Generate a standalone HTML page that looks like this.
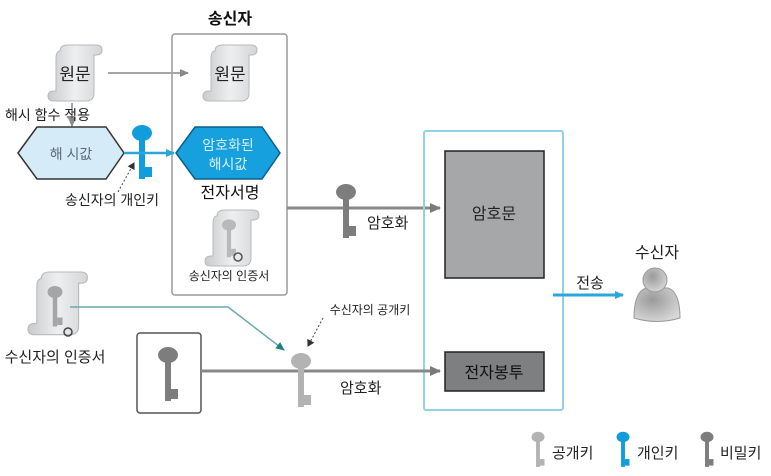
<!DOCTYPE html>
<html><head><meta charset="utf-8"><style>
html,body{margin:0;padding:0;background:#fff;}
svg{display:block;font-family:"Liberation Sans","Noto Sans CJK KR",sans-serif;}
</style></head><body>
<svg width="771" height="476" viewBox="0 0 771 476" xmlns="http://www.w3.org/2000/svg">
<defs>
<linearGradient id="sg" x1="0" x2="1"><stop offset="0" stop-color="#c9cacc"/><stop offset=".5" stop-color="#eeeff0"/><stop offset="1" stop-color="#d4d5d7"/></linearGradient>
<radialGradient id="pg" cx=".4" cy=".35" r=".7"><stop offset="0" stop-color="#9a9a9a"/><stop offset="1" stop-color="#d8d8d8"/></radialGradient>
<g id="scroll">
<path d="M12,6 Q12,0 20,0 H48 Q54,0 54,5 Q54,10 48,10 H46 V48 Q46,56 38,56 H6 Q0,56 0,51 Q0,46 6,46 H8 V14 Q8,6 12,6 Z" fill="url(#sg)" stroke="#b8b9bb" stroke-width="1"/>
</g>
<g id="key">
<ellipse cx="0" cy="0" rx="10" ry="8"/>
<rect x="-3" y="4" width="6" height="42"/>
<rect x="3" y="34" width="7" height="10"/>
</g>
<marker id="ag" markerWidth="10" markerHeight="10" refX="8" refY="5" orient="auto" markerUnits="userSpaceOnUse"><path d="M0,1 L9,5 L0,9 Z" fill="#8a8a8a"/></marker>
<marker id="ad" markerWidth="12" markerHeight="12" refX="10" refY="6" orient="auto" markerUnits="userSpaceOnUse"><path d="M0,1 L11,6 L0,11 Z" fill="#7a7a7a"/></marker>
<marker id="ab" markerWidth="10" markerHeight="10" refX="8" refY="5" orient="auto" markerUnits="userSpaceOnUse"><path d="M0,1 L9,5 L0,9 Z" fill="#29a6dc"/></marker>
<marker id="at" markerWidth="10" markerHeight="10" refX="8" refY="5" orient="auto" markerUnits="userSpaceOnUse"><path d="M0,1 L9,5 L0,9 Z" fill="#1f7f86"/></marker>
<marker id="ak" markerWidth="8" markerHeight="8" refX="6" refY="4" orient="auto" markerUnits="userSpaceOnUse"><path d="M0,0 L7,4 L0,8 Z" fill="#333"/></marker>
</defs>

<text x="230" y="24" font-size="16" font-weight="bold" text-anchor="middle" fill="#111">송신자</text>
<rect x="172" y="34" width="115" height="261" rx="3" fill="none" stroke="#9a9a9a" stroke-width="1.5"/>

<use href="#scroll" x="48" y="45"/>
<text x="75" y="80" font-size="17" text-anchor="middle" fill="#222">원문</text>
<line x1="108" y1="73" x2="188" y2="73" stroke="#a5a5a5" stroke-width="2" marker-end="url(#ag)"/>
<use href="#scroll" x="203" y="45"/>
<text x="230" y="80" font-size="17" text-anchor="middle" fill="#222">원문</text>

<line x1="72" y1="103" x2="72" y2="126" stroke="#a5a5a5" stroke-width="2" marker-end="url(#ag)"/>
<text x="5" y="120" font-size="14" fill="#222">해시 함수 적용</text>

<polygon points="18,153 37,127 106,127 124,153 106,179 37,179" fill="#d5ebf8" stroke="#333" stroke-width="1.5"/>
<text x="71" y="159" font-size="14" text-anchor="middle" fill="#5a6b78">해 시값</text>
<g fill="#119ddb" transform="translate(142,133)"><use href="#key"/></g>
<line x1="124" y1="153" x2="174" y2="153" stroke="#29a6dc" stroke-width="2.5" marker-end="url(#ab)"/>
<line x1="118" y1="192" x2="134" y2="163" stroke="#444" stroke-width="1" stroke-dasharray="2,2" marker-end="url(#ak)"/>
<text x="112" y="205" font-size="14" text-anchor="middle" fill="#222">송신자의 개인키</text>

<polygon points="176,153 195,127 262,127 280,153 262,179 195,179" fill="#16a0dd" stroke="#0b5f8e" stroke-width="1.5"/>
<text x="228" y="150" font-size="14" text-anchor="middle" fill="#d8f0fc">암호화된</text>
<text x="228" y="169" font-size="14" text-anchor="middle" fill="#d8f0fc">해시값</text>
<text x="230" y="198" font-size="16" text-anchor="middle" fill="#111">전자서명</text>

<use href="#scroll" x="205" y="210"/>
<g fill="#b9b9b9" transform="translate(229,225) scale(0.7)"><use href="#key"/></g>
<circle cx="238" cy="257" r="4" fill="none" stroke="#555" stroke-width="1.5"/>
<text x="229" y="280" font-size="12" text-anchor="middle" fill="#222">송신자의  인증서</text>

<line x1="287" y1="208" x2="440" y2="208" stroke="#888" stroke-width="3" marker-end="url(#ad)"/>
<g fill="#7d7d7d" transform="translate(346,192)"><use href="#key"/></g>
<text x="367" y="228" font-size="15" fill="#222">암호화</text>

<rect x="424" y="131" width="139" height="279" rx="2" fill="none" stroke="#8fd4e4" stroke-width="2"/>
<rect x="445" y="151" width="99" height="127" fill="#a6a7a9" stroke="#222" stroke-width="1.5"/>
<text x="494" y="219" font-size="16" text-anchor="middle" fill="#222">암호문</text>
<rect x="445" y="352" width="99" height="39" fill="#7e7f81" stroke="#222" stroke-width="1.5"/>
<text x="494" y="378" font-size="16" text-anchor="middle" fill="#111">전자봉투</text>

<line x1="553" y1="295" x2="623" y2="295" stroke="#29a6dc" stroke-width="3" marker-end="url(#ab)"/>
<text x="590" y="288" font-size="15" text-anchor="middle" fill="#222">전송</text>
<text x="657" y="258" font-size="16" text-anchor="middle" fill="#222">수신자</text>
<path d="M634,318 Q634,292 646,288 L668,288 Q680,292 680,318 Q657,325 634,318 Z" fill="url(#pg)" stroke="#999"/>
<circle cx="655" cy="280" r="12" fill="url(#pg)" stroke="#999"/>

<use href="#scroll" x="28" y="272" transform="translate(28,272) scale(1.1,1.12) translate(-28,-272)"/>
<g fill="#a5a5a5" transform="translate(55,292) scale(0.75)"><use href="#key"/></g>
<circle cx="68" cy="332" r="4" fill="none" stroke="#444" stroke-width="1.5"/>
<text x="55" y="362" font-size="15" text-anchor="middle" fill="#222">수신자의 인증서</text>

<polyline points="70,307 228,307 284,350" fill="none" stroke="#6aa9ae" stroke-width="1.5" marker-end="url(#at)"/>

<rect x="137" y="333" width="64" height="80" rx="3" fill="none" stroke="#555" stroke-width="1.5"/>
<g fill="#7d7d7d" transform="translate(168,355)"><use href="#key"/></g>

<line x1="201" y1="371" x2="440" y2="371" stroke="#888" stroke-width="3" marker-end="url(#ad)"/>
<g fill="#b3b3b3" transform="translate(301,361)"><use href="#key"/></g>
<text x="340" y="393" font-size="15" fill="#222">암호화</text>
<line x1="323" y1="318" x2="308" y2="346" stroke="#444" stroke-width="1" stroke-dasharray="2,2" marker-end="url(#ak)"/>
<text x="370" y="314" font-size="12" text-anchor="middle" fill="#222">수신자의 공개키</text>

<g fill="#b3b3b3" transform="translate(538,437) scale(0.65)"><use href="#key"/></g>
<text x="552" y="458" font-size="15" fill="#222">공개키</text>
<g fill="#119ddb" transform="translate(623,437) scale(0.65)"><use href="#key"/></g>
<text x="637" y="458" font-size="15" fill="#222">개인키</text>
<g fill="#7d7d7d" transform="translate(707,437) scale(0.65)"><use href="#key"/></g>
<text x="720" y="458" font-size="15" fill="#222">비밀키</text>
</svg>
</body></html>
